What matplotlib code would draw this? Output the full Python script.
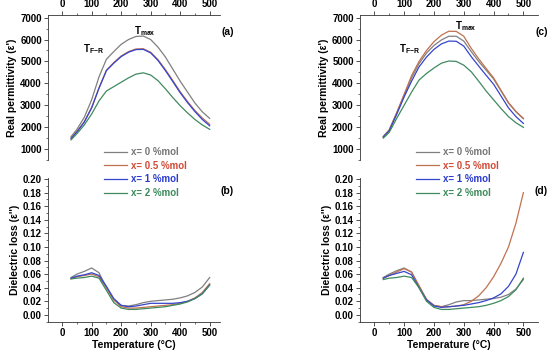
#!/usr/bin/env python3

import matplotlib
matplotlib.use("Agg")
import matplotlib.pyplot as plt
from matplotlib.ticker import MultipleLocator

plt.rcParams['font.family'] = ['Liberation Sans', 'DejaVu Sans']
plt.rcParams['font.weight'] = 'bold'
plt.rcParams['axes.labelweight'] = 'bold'
plt.rcParams['mathtext.fontset'] = 'custom'
plt.rcParams['mathtext.rm'] = 'Liberation Sans:bold'
plt.rcParams['mathtext.bf'] = 'Liberation Sans:bold'
plt.rcParams['mathtext.default'] = 'bf'

# temperature grid (°C)
temps = [30, 50, 75, 100, 125, 150, 175, 200, 225, 250,
         275, 300, 325, 350, 375, 400, 425, 450, 475, 500]

labels = ["x= 0 %mol", "x= 0.5 %mol", "x= 1 %mol", "x= 2 %mol"]
line_colors = ["#808080", "#c0714f", "#3545cc", "#3f8a5f"]
text_colors = ["#767676", "#d24a36", "#2b3bd0", "#3b8a5a"]

# (a) real permittivity, first set
perm_a = [
    [1560, 1900, 2450, 3250, 4300, 5100, 5450, 5780, 6000, 6140,
     6160, 6000, 5650, 5200, 4650, 4100, 3600, 3100, 2700, 2400],
    [1500, 1800, 2250, 2900, 3800, 4600, 4950, 5250, 5450, 5570,
     5580, 5420, 5080, 4630, 4130, 3620, 3170, 2760, 2420, 2130],
    [1480, 1780, 2230, 2880, 3780, 4580, 4920, 5220, 5420, 5540,
     5550, 5390, 5040, 4580, 4080, 3570, 3120, 2710, 2350, 2060],
    [1420, 1700, 2100, 2600, 3200, 3650, 3850, 4050, 4250, 4420,
     4480, 4380, 4120, 3750, 3350, 2980, 2650, 2350, 2100, 1900],
]

# (c) real permittivity, second set
perm_c = [
    [1580, 1880, 2650, 3450, 4250, 4900, 5380, 5730, 5980, 6150,
     6150, 5930, 5450, 5000, 4600, 4200, 3650, 3100, 2700, 2380],
    [1560, 1860, 2650, 3500, 4350, 5000, 5500, 5900, 6200, 6380,
     6370, 6150, 5600, 5120, 4680, 4250, 3680, 3120, 2720, 2400],
    [1540, 1830, 2580, 3380, 4100, 4750, 5200, 5550, 5800, 5930,
     5920, 5700, 5220, 4790, 4370, 3960, 3420, 2880, 2480, 2170],
    [1500, 1760, 2400, 3000, 3600, 4150, 4450, 4700, 4920, 5020,
     5000, 4830, 4530, 4100, 3650, 3250, 2850, 2480, 2200, 1990],
]

# (b) dielectric loss, first set
loss_b = [
    [0.055, 0.060, 0.064, 0.069, 0.062, 0.040, 0.022, 0.014, 0.013, 0.015,
     0.018, 0.020, 0.021, 0.022, 0.023, 0.025, 0.028, 0.033, 0.041, 0.055],
    [0.053, 0.056, 0.058, 0.060, 0.056, 0.040, 0.022, 0.012, 0.010, 0.010,
     0.011, 0.012, 0.013, 0.014, 0.015, 0.017, 0.020, 0.025, 0.033, 0.046],
    [0.054, 0.057, 0.059, 0.062, 0.058, 0.042, 0.024, 0.014, 0.012, 0.013,
     0.015, 0.017, 0.017, 0.017, 0.017, 0.018, 0.020, 0.024, 0.031, 0.044],
    [0.053, 0.054, 0.055, 0.057, 0.054, 0.036, 0.018, 0.010, 0.008, 0.008,
     0.009, 0.010, 0.011, 0.012, 0.014, 0.016, 0.019, 0.024, 0.031, 0.044],
]

# (d) dielectric loss, second set
loss_d = [
    [0.055, 0.060, 0.065, 0.069, 0.063, 0.042, 0.022, 0.014, 0.012, 0.015,
     0.019, 0.021, 0.021, 0.022, 0.023, 0.024, 0.026, 0.030, 0.038, 0.052],
    [0.054, 0.058, 0.063, 0.068, 0.063, 0.043, 0.023, 0.014, 0.012, 0.012,
     0.013, 0.015, 0.020, 0.028, 0.040, 0.056, 0.076, 0.100, 0.135, 0.180],
    [0.054, 0.058, 0.061, 0.064, 0.059, 0.040, 0.022, 0.013, 0.011, 0.012,
     0.013, 0.014, 0.016, 0.018, 0.021, 0.025, 0.031, 0.042, 0.060, 0.092],
    [0.052, 0.054, 0.055, 0.057, 0.055, 0.040, 0.020, 0.011, 0.008, 0.008,
     0.009, 0.010, 0.011, 0.012, 0.014, 0.017, 0.021, 0.027, 0.037, 0.054],
]

TICK_FS = 7
LABEL_FS = 7.5


def style_axis(ax, top):
    for side in ("right", "bottom" if top else "top"):
        ax.spines[side].set_visible(False)
    for sp in ax.spines.values():
        sp.set_linewidth(0.6)
        sp.set_color("#333333")
    if top:
        ax.xaxis.tick_top()
    else:
        ax.xaxis.tick_bottom()
    ax.yaxis.tick_left()
    ax.xaxis.set_major_locator(MultipleLocator(100))
    ax.xaxis.set_minor_locator(MultipleLocator(50))
    ax.tick_params(which="major", direction="out", length=3, width=0.6,
                   labelsize=TICK_FS, pad=1.5, color="#333333")
    ax.tick_params(which="minor", direction="out", length=1.6, width=0.5,
                   color="#333333")


def draw_column(x0, x1, perm, loss, xlim, tags, ann):
    w = x1 - x0
    ax_p = fig.add_axes([x0, 1 - 160 / 352, w, 145 / 352])
    ax_l = fig.add_axes([x0, 1 - 322 / 352, w, 144 / 352])

    for vals, c in zip(perm, line_colors):
        ax_p.plot(temps, vals, color=c, lw=0.9)
    for vals, c, lab in zip(loss, line_colors, labels):
        ax_l.plot(temps, vals, color=c, lw=0.9, label=lab)

    ax_p.set_xlim(*xlim)
    ax_p.set_ylim(500, 7120)
    ax_p.yaxis.set_major_locator(MultipleLocator(1000))
    ax_p.yaxis.set_minor_locator(MultipleLocator(500))
    style_axis(ax_p, True)
    ax_p.set_ylabel("Real permittivity (ε')", fontsize=LABEL_FS, labelpad=2)

    ax_l.set_xlim(*xlim)
    ax_l.set_ylim(-0.0105, 0.2015)
    ax_l.yaxis.set_major_locator(MultipleLocator(0.02))
    ax_l.yaxis.set_minor_locator(MultipleLocator(0.01))
    ax_l.yaxis.set_major_formatter(lambda v, p: f"{v:.2f}")
    style_axis(ax_l, False)
    ax_l.set_ylabel("Dielectric loss (ε'')", fontsize=LABEL_FS, labelpad=2)
    ax_l.set_xlabel("Temperature (°C)", fontsize=LABEL_FS, labelpad=1)

    # annotations
    (tfx, tfy), (tmx, tmy) = ann
    ax_p.text(tfx, tfy, r"T$_{F\mathrm{-}R}$", fontsize=7, va="center")
    ax_p.text(tmx, tmy, r"T$_{max}$", fontsize=7, va="center")
    ax_p.text(560, 6350, tags[0], fontsize=7.5, ha="center", va="center",
              clip_on=False)
    ax_l.text(560, 0.182, tags[1], fontsize=7.5, ha="center", va="center",
              clip_on=False)
    return ax_l


fig = plt.figure(figsize=(5.5, 3.52), dpi=100)

ax_b = draw_column(48 / 550, 220 / 550, perm_a, loss_b, (-48, 535),
                   ("(a)", "(b)"), ((72, 5560), (245, 6380)))
ax_d = draw_column(360 / 550, 538 / 550, perm_c, loss_d, (-48, 549),
                   ("(c)", "(d)"), ((84, 5560), (272, 6620)))

for ax, xa in ((ax_b, 104 / 550), (ax_d, 416 / 550)):
    handles, labs = ax.get_legend_handles_labels()
    leg = fig.legend(handles, labs, loc="upper left",
                     bbox_to_anchor=(xa, 1 - 147 / 352), frameon=False,
                     fontsize=7, handlelength=2.4, handletextpad=0.35,
                     labelspacing=0.38, borderpad=0, borderaxespad=0)
    for t, c in zip(leg.get_texts(), text_colors):
        t.set_color(c)

fig.savefig("out.png", dpi=100)
